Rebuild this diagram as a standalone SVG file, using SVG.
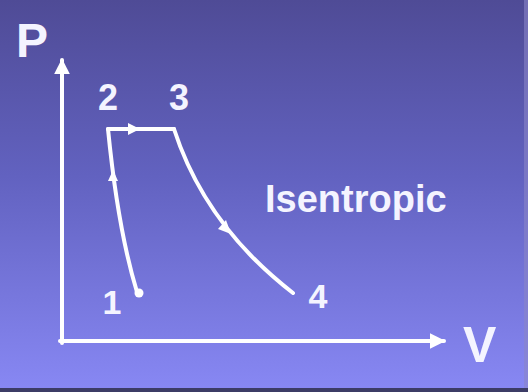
<svg xmlns="http://www.w3.org/2000/svg" width="528" height="392" viewBox="0 0 528 392">
<defs>
<linearGradient id="bg" x1="0" y1="0" x2="0" y2="1">
<stop offset="0" stop-color="#4f4b96"/>
<stop offset="0.45" stop-color="#6262c0"/>
<stop offset="1" stop-color="#8888f4"/>
</linearGradient>
<marker id="ah" viewBox="0 0 10 10" refX="9" refY="5" markerWidth="4" markerHeight="4" orient="auto" markerUnits="strokeWidth">
<path d="M0,0 L10,5 L0,10 z" fill="#ffffff"/>
</marker>
</defs>
<style>
.ln{fill:none;stroke:#ffffff;stroke-width:4;stroke-linecap:round;stroke-linejoin:round}
.tx{font-family:"Liberation Sans",Arial,sans-serif;font-weight:bold;fill:#f4f4ff}
.mk{fill:#ffffff}
</style>
<rect x="0" y="0" width="528" height="392" fill="url(#bg)"/>
<rect x="0" y="388" width="528" height="4" fill="#3c3c66"/>
<rect x="524" y="0" width="4" height="388" fill="#8a86c8" opacity="0.6"/>

<g id="axes">
<path class="ln" d="M62,343 L62,60" marker-end="url(#ah)"/>
<path class="ln" d="M60,341 L444,341" marker-end="url(#ah)"/>
</g>

<g id="connectors">
<path class="ln" d="M137,292 Q118,230 108,129"/>
<path class="ln" d="M108,129 L174,129"/>
<path class="ln" d="M174,129 Q205,225 293,293"/>
<path class="mk" d="M113,170 L108,181 L118,181 z"/>
<path class="mk" d="M140,129 L128,123 L128,135 z"/>
<path class="mk" d="M231,234 L218,229 L226,220 z"/>
</g>

<g id="label-P"><text class="tx" x="16" y="57" font-size="48">P</text></g>
<g id="label-V"><text class="tx" x="463" y="362" font-size="50">V</text></g>
<g id="node-1">
<circle cx="139" cy="293" r="4.5" fill="#ffffff"/>
<text class="tx" x="112" y="314" font-size="34" text-anchor="middle">1</text>
</g>
<g id="node-2"><text class="tx" x="108" y="110" font-size="36" text-anchor="middle">2</text></g>
<g id="node-3"><text class="tx" x="179" y="110" font-size="36" text-anchor="middle">3</text></g>
<g id="node-4"><text class="tx" x="318" y="308" font-size="34" text-anchor="middle">4</text></g>
<g id="label-isentropic"><text class="tx" x="265" y="212" font-size="38">Isentropic</text></g>
</svg>
